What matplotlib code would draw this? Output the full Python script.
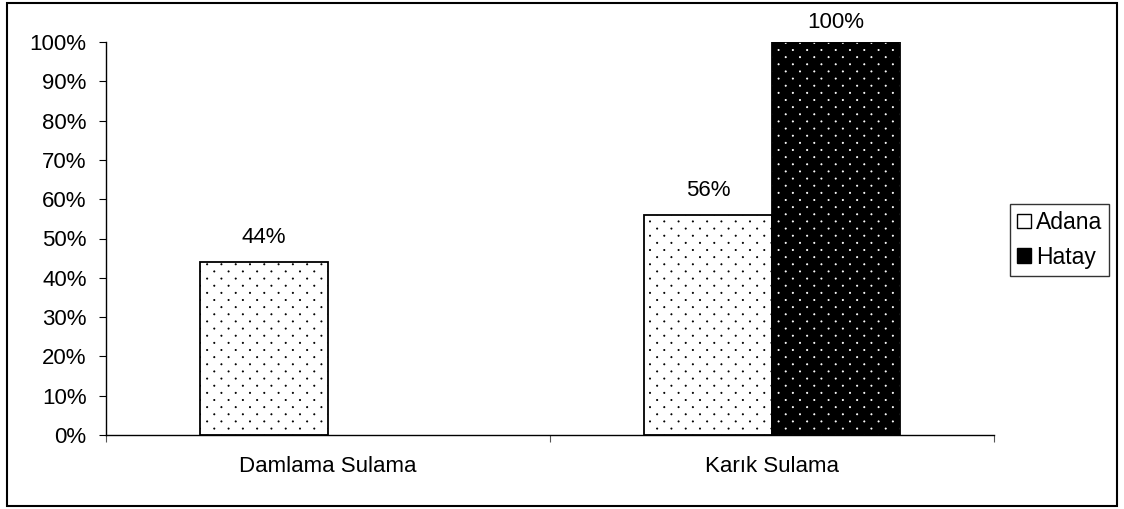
import numpy as np
import matplotlib.pyplot as plt
import matplotlib.hatch as mhatch
from matplotlib.path import Path
from matplotlib.patches import Rectangle, Patch

categories = ['Damlama Sulama', 'Karık Sulama']
series = ['Adana', 'Hatay']
adana = [0.44, 0.56]
hatay = [np.nan, 1.00]
yticks = [0.0, 0.1, 0.2, 0.3, 0.4, 0.5, 0.6, 0.7, 0.8, 0.9, 1.0]


# Excel-like "5%" dot pattern: small dots on a staggered grid,
# wider apart horizontally than vertically. Replaces the '.' hatch.
class ExcelDots(mhatch.HatchPatternBase):
    ncols, nrows, size = 7, 14, 0.006

    def __init__(self, hatch, density):
        self.centers = []
        if hatch.count('.'):
            for r in range(self.nrows + 1):
                if r % 2 == 0:
                    xs = np.arange(self.ncols + 1) / self.ncols
                else:
                    xs = (np.arange(self.ncols) + 0.5) / self.ncols
                self.centers += [(xx, r / self.nrows) for xx in xs]
        self.circ = Path.unit_circle()
        self.num_vertices = len(self.centers) * len(self.circ.vertices)

    def set_vertices_and_codes(self, vertices, codes):
        nv = len(self.circ.vertices)
        for i, c in enumerate(self.centers):
            vertices[i*nv:(i+1)*nv] = self.circ.vertices * self.size + c
            codes[i*nv:(i+1)*nv] = self.circ.codes


mhatch._hatch_types = [h for h in mhatch._hatch_types
                       if h is not mhatch.SmallFilledCircles] + [ExcelDots]

plt.rcParams['font.family'] = ['Liberation Sans', 'DejaVu Sans']
plt.rcParams['hatch.linewidth'] = 0.6
fs = 16

fig = plt.figure(figsize=(11.24, 5.09), dpi=100)
fig.patches.append(Rectangle((0.006, 0.006), 0.988, 0.988, transform=fig.transFigure,
                             fill=False, edgecolor='black', linewidth=1.5))
ax = fig.add_axes([106/1124, 1-435/509, 888/1124, 393/509])

x = np.arange(len(categories)) + 0.5
w = 0.288

# Adana: white with black dots
ax.bar(x - w, adana, width=w, align='edge', color='white', edgecolor='black',
       hatch='.', linewidth=0, zorder=2)
ax.bar(x - w, adana, width=w, align='edge', fill=False, edgecolor='black',
       linewidth=1.3, zorder=3)
# Hatay: black with white dots
ax.bar(x, hatay, width=w, align='edge', color='black', edgecolor='white',
       hatch='.', linewidth=0, zorder=2)
ax.bar(x, hatay, width=w, align='edge', fill=False, edgecolor='black',
       linewidth=1.3, zorder=3)

for xs, vals in [(x - w / 2, adana), (x + w / 2, hatay)]:
    for xi, v in zip(xs, vals):
        if not np.isnan(v):
            ax.text(xi, min(v + 0.035, 1.022), f'{v*100:.0f}%', ha='center',
                    va='bottom', fontsize=fs, clip_on=False)

ax.set_xlim(0, len(categories))
ax.set_ylim(0, 1)
ax.set_yticks(yticks)
ax.set_yticklabels([f'{t*100:.0f}%' for t in yticks], fontsize=fs)
ax.set_xticks(np.arange(len(categories) + 1))
ax.set_xticklabels([])
ax.set_xticks(x, minor=True)
ax.set_xticklabels(categories, minor=True, fontsize=fs)
ax.tick_params(axis='x', which='minor', length=0, pad=15)
ax.tick_params(axis='x', which='major', length=5, color='#555555')
ax.tick_params(axis='y', length=5, pad=9)
for s in ['top', 'right']:
    ax.spines[s].set_visible(False)
ax.spines['left'].set_linewidth(1.0)
ax.spines['bottom'].set_linewidth(1.0)

handles = [Patch(facecolor='white', edgecolor='black', linewidth=1),
           Patch(facecolor='black', edgecolor='black', linewidth=1)]
leg = fig.legend(handles, series, loc='center left', bbox_to_anchor=(1010/1124, 1-240/509),
                 fontsize=16.5, frameon=True, fancybox=False, edgecolor='black',
                 handlelength=0.6, handleheight=0.6, handletextpad=0.25,
                 borderpad=0.3, labelspacing=0.5, borderaxespad=0)
leg.get_frame().set_linewidth(1.0)

fig.savefig('out.png', dpi=100)
